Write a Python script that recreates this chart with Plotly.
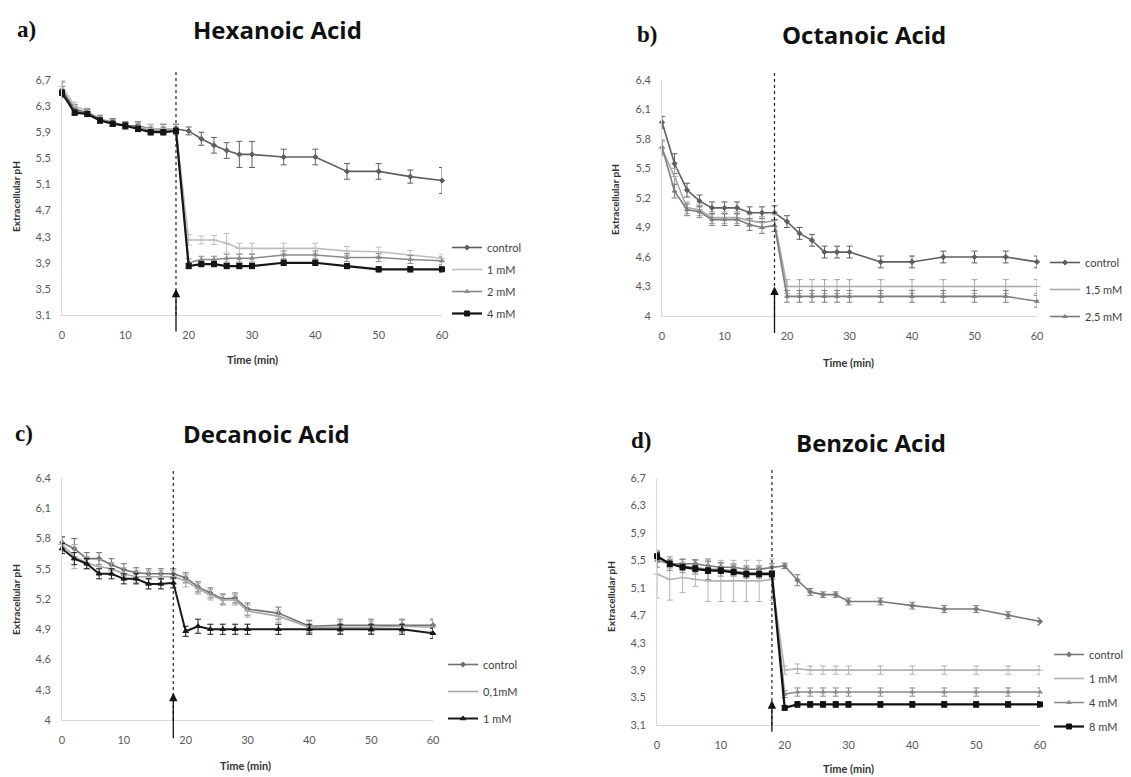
import plotly.graph_objects as go

# ---------------- DATA ----------------
time_min = [0, 2, 4, 6, 8, 10, 12, 14, 16, 18, 20, 22, 24, 26, 28, 30, 35, 40, 45, 50, 55, 60]
addition_time = 18

# a) Hexanoic acid
hex_labels = ["control", "1 mM", "2 mM", "4 mM"]
hex_control = [6.55, 6.25, 6.2, 6.1, 6.05, 6.0, 6.0, 5.95, 5.95, 5.95, 5.92, 5.8, 5.7, 5.62, 5.56, 5.56, 5.52, 5.52, 5.3, 5.3, 5.22, 5.16]
hex_1mM = [6.6, 6.3, 6.22, 6.1, 6.05, 6.0, 5.98, 5.95, 5.95, 5.95, 4.25, 4.25, 4.25, 4.2, 4.12, 4.12, 4.12, 4.12, 4.08, 4.07, 4.02, 3.97]
hex_2mM = [6.52, 6.22, 6.2, 6.1, 6.05, 6.0, 5.97, 5.92, 5.92, 5.92, 3.9, 3.95, 3.95, 3.97, 3.97, 3.97, 4.02, 4.02, 3.98, 3.98, 3.95, 3.93]
hex_4mM = [6.5, 6.2, 6.18, 6.08, 6.03, 6.0, 5.95, 5.9, 5.9, 5.92, 3.85, 3.88, 3.88, 3.85, 3.85, 3.85, 3.9, 3.9, 3.85, 3.8, 3.8, 3.8]
hex_control_err = [0.12, 0.07, 0.06, 0.06, 0.06, 0.06, 0.06, 0.07, 0.07, 0.07, 0.06, 0.1, 0.12, 0.12, 0.2, 0.2, 0.12, 0.12, 0.12, 0.12, 0.1, 0.2]
hex_1mM_err = [0.1, 0.06, 0.05, 0.05, 0.05, 0.05, 0.06, 0.07, 0.08, 0.08, 0.08, 0.06, 0.07, 0.15, 0.08, 0.08, 0.08, 0.08, 0.07, 0.07, 0.07, 0.06]
hex_2mM_err = [0.08, 0.05, 0.05, 0.05, 0.05, 0.05, 0.06, 0.06, 0.06, 0.06, 0.06, 0.05, 0.05, 0.06, 0.06, 0.06, 0.06, 0.06, 0.06, 0.06, 0.06, 0.06]
hex_4mM_err = [0.05, 0.04, 0.04, 0.04, 0.04, 0.04, 0.04, 0.04, 0.04, 0.04, 0.04, 0.04, 0.04, 0.04, 0.04, 0.04, 0.04, 0.04, 0.04, 0.04, 0.04, 0.04]

# b) Octanoic acid
oct_labels = ["control", "1,5 mM", "2,5 mM"]
oct_control = [5.97, 5.55, 5.28, 5.17, 5.1, 5.1, 5.1, 5.05, 5.05, 5.05, 4.96, 4.84, 4.77, 4.65, 4.65, 4.65, 4.55, 4.55, 4.6, 4.6, 4.6, 4.55]
oct_15mM = [5.7, 5.42, 5.1, 5.08, 5.0, 5.0, 5.0, 4.97, 4.95, 4.97, 4.3, 4.3, 4.3, 4.3, 4.3, 4.3, 4.3, 4.3, 4.3, 4.3, 4.3, 4.3]
oct_25mM = [5.72, 5.27, 5.08, 5.06, 4.98, 4.98, 4.98, 4.93, 4.9, 4.92, 4.2, 4.2, 4.2, 4.2, 4.2, 4.2, 4.2, 4.2, 4.2, 4.2, 4.2, 4.15]
oct_control_err = [0.06, 0.1, 0.07, 0.06, 0.06, 0.06, 0.06, 0.06, 0.06, 0.07, 0.06, 0.06, 0.06, 0.06, 0.06, 0.06, 0.06, 0.06, 0.06, 0.06, 0.06, 0.06]
oct_15mM_err = [0.07, 0.08, 0.06, 0.06, 0.06, 0.06, 0.06, 0.06, 0.06, 0.06, 0.07, 0.07, 0.07, 0.07, 0.07, 0.07, 0.07, 0.07, 0.07, 0.07, 0.07, 0.07]
oct_25mM_err = [0.07, 0.07, 0.06, 0.06, 0.06, 0.06, 0.06, 0.06, 0.06, 0.06, 0.06, 0.06, 0.06, 0.06, 0.06, 0.06, 0.06, 0.06, 0.06, 0.06, 0.06, 0.06]

# c) Decanoic acid
dec_labels = ["control", "0,1mM", "1 mM"]
dec_control = [5.76, 5.7, 5.6, 5.6, 5.54, 5.49, 5.46, 5.45, 5.45, 5.45, 5.41, 5.32, 5.26, 5.2, 5.21, 5.1, 5.06, 4.93, 4.94, 4.94, 4.94, 4.94]
dec_01mM = [5.74, 5.62, 5.56, 5.52, 5.5, 5.45, 5.42, 5.42, 5.42, 5.42, 5.38, 5.3, 5.24, 5.19, 5.19, 5.08, 5.03, 4.92, 4.92, 4.92, 4.93, 4.92]
dec_1mM = [5.7, 5.6, 5.55, 5.45, 5.45, 5.4, 5.4, 5.35, 5.35, 5.36, 4.88, 4.93, 4.9, 4.9, 4.9, 4.9, 4.9, 4.9, 4.9, 4.9, 4.9, 4.86]
dec_control_err = [0.06, 0.1, 0.06, 0.06, 0.06, 0.06, 0.05, 0.05, 0.05, 0.05, 0.05, 0.05, 0.05, 0.05, 0.05, 0.06, 0.06, 0.06, 0.06, 0.06, 0.06, 0.06]
dec_01mM_err = [0.07, 0.12, 0.06, 0.07, 0.06, 0.06, 0.06, 0.06, 0.06, 0.06, 0.06, 0.05, 0.05, 0.05, 0.05, 0.06, 0.06, 0.06, 0.06, 0.06, 0.06, 0.07]
dec_1mM_err = [0.05, 0.06, 0.05, 0.05, 0.05, 0.05, 0.05, 0.05, 0.05, 0.05, 0.05, 0.07, 0.05, 0.05, 0.05, 0.05, 0.05, 0.05, 0.05, 0.05, 0.05, 0.05]

# d) Benzoic acid
ben_labels = ["control", "1 mM", "4 mM", "8 mM"]
ben_control = [5.55, 5.45, 5.45, 5.45, 5.42, 5.4, 5.4, 5.37, 5.37, 5.4, 5.42, 5.21, 5.04, 5.0, 5.0, 4.9, 4.9, 4.84, 4.79, 4.79, 4.7, 4.61]
ben_1mM = [5.3, 5.22, 5.25, 5.22, 5.2, 5.2, 5.2, 5.2, 5.2, 5.22, 3.9, 3.92, 3.9, 3.9, 3.9, 3.9, 3.9, 3.9, 3.9, 3.9, 3.9, 3.9]
ben_4mM = [5.5, 5.45, 5.42, 5.4, 5.37, 5.37, 5.35, 5.32, 5.32, 5.32, 3.55, 3.58, 3.58, 3.58, 3.58, 3.58, 3.58, 3.58, 3.58, 3.58, 3.58, 3.58]
ben_8mM = [5.56, 5.45, 5.4, 5.38, 5.35, 5.35, 5.33, 5.3, 5.3, 5.3, 3.35, 3.4, 3.4, 3.4, 3.4, 3.4, 3.4, 3.4, 3.4, 3.4, 3.4, 3.4]
ben_control_err = [0.08, 0.06, 0.06, 0.06, 0.06, 0.06, 0.05, 0.05, 0.05, 0.05, 0.04, 0.08, 0.05, 0.04, 0.04, 0.05, 0.05, 0.05, 0.05, 0.05, 0.05, 0.05]
ben_1mM_err = [0.35, 0.3, 0.22, 0.1, 0.3, 0.3, 0.3, 0.3, 0.3, 0.3, 0.06, 0.07, 0.06, 0.06, 0.06, 0.06, 0.06, 0.06, 0.06, 0.06, 0.06, 0.06]
ben_4mM_err = [0.1, 0.1, 0.1, 0.1, 0.15, 0.1, 0.08, 0.08, 0.08, 0.08, 0.05, 0.06, 0.06, 0.06, 0.06, 0.06, 0.06, 0.06, 0.06, 0.06, 0.06, 0.06]
ben_8mM_err = [0.05, 0.04, 0.04, 0.04, 0.04, 0.04, 0.04, 0.04, 0.04, 0.04, 0.03, 0.04, 0.04, 0.04, 0.04, 0.04, 0.04, 0.04, 0.04, 0.04, 0.04, 0.04]

# tick labels
x_ticks = [0, 10, 20, 30, 40, 50, 60]
y_ticks_hex = [3.1, 3.5, 3.9, 4.3, 4.7, 5.1, 5.5, 5.9, 6.3, 6.7]
y_ticklabels_hex = ["3,1", "3,5", "3,9", "4,3", "4,7", "5,1", "5,5", "5,9", "6,3", "6,7"]
y_ticks_oct = [4.0, 4.3, 4.6, 4.9, 5.2, 5.5, 5.8, 6.1, 6.4]
y_ticklabels_oct = ["4", "4,3", "4,6", "4,9", "5,2", "5,5", "5,8", "6,1", "6,4"]

panel_titles = ["Hexanoic Acid", "Octanoic Acid", "Decanoic Acid", "Benzoic Acid"]
panel_letters = ["a)", "b)", "c)", "d)"]
x_title = "Time (min)"
y_title = "Extracellular pH"

# ---------------- LAYOUT HELPERS ----------------
W, H = 1131, 777
def fx(p):
    return p / W
def fy(p):
    return 1 - p / H

FONT = "Lato, 'Open Sans', sans-serif"
TITLE_FONT = "'Open Sans', Lato, sans-serif"
fig = go.Figure()

panels = [
    dict(ax="", xpx=(62, 442), ypx=(315, 80), yr=(3.1, 6.7), yt=y_ticks_hex, ytl=y_ticklabels_hex,
         legend="legend",
         series=[(hex_labels[0], hex_control, hex_control_err, "#5f5f5f", "diamond", 4, 1.6),
                 (hex_labels[1], hex_1mM, hex_1mM_err, "#bdbdbd", "line-ew", 5, 1.6),
                 (hex_labels[2], hex_2mM, hex_2mM_err, "#8a8a8a", "triangle-up", 4, 1.6),
                 (hex_labels[3], hex_4mM, hex_4mM_err, "#151515", "square", 5, 2.2)]),
    dict(ax="2", xpx=(662, 1037), ypx=(316, 80), yr=(4.0, 6.4), yt=y_ticks_oct, ytl=y_ticklabels_oct,
         legend="legend2",
         series=[(oct_labels[0], oct_control, oct_control_err, "#5f5f5f", "diamond", 4, 1.6),
                 (oct_labels[1], oct_15mM, oct_15mM_err, "#a8a8a8", "line-ew", 5, 1.6),
                 (oct_labels[2], oct_25mM, oct_25mM_err, "#7d7d7d", "triangle-up", 4, 1.6)]),
    dict(ax="3", xpx=(62, 433), ypx=(720, 478), yr=(4.0, 6.4), yt=y_ticks_oct, ytl=y_ticklabels_oct,
         legend="legend3",
         series=[(dec_labels[0], dec_control, dec_control_err, "#707070", "diamond", 4, 1.6),
                 (dec_labels[1], dec_01mM, dec_01mM_err, "#a8a8a8", "line-ew", 5, 1.6),
                 (dec_labels[2], dec_1mM, dec_1mM_err, "#1a1a1a", "triangle-up", 5, 2.0)]),
    dict(ax="4", xpx=(657, 1040), ypx=(725, 478), yr=(3.1, 6.7), yt=y_ticks_hex, ytl=y_ticklabels_hex,
         legend="legend4",
         series=[(ben_labels[0], ben_control, ben_control_err, "#7a7a7a", "diamond", 4, 1.6),
                 (ben_labels[1], ben_1mM, ben_1mM_err, "#b3b3b3", "line-ew", 5, 1.6),
                 (ben_labels[2], ben_4mM, ben_4mM_err, "#8c8c8c", "triangle-up", 4, 1.6),
                 (ben_labels[3], ben_8mM, ben_8mM_err, "#111111", "square", 5, 2.2)]),
]

# legend top-left corner (px), gap between items
legend_pos = {
    "legend": (447, 233, 3),
    "legend2": (1045, 248, 8),
    "legend3": (443, 650, 8),
    "legend4": (1049, 640, 5),
}

arrow_heads = [(3.5, 44), (4.3, 48), (4.27, 47), (3.46, 33)]
letter_pos = [(26, 29), (647, 35), (24, 434), (641, 440)]
title_pos = [(277, 29), (864, 35), (266, 433), (871, 442)]
ytitle_pos = [(16, 197), (615, 200), (16, 600), (611, 597)]
xtitle_pos = [(252, 360), (848, 362), (245, 765), (848, 768)]

layout_axes = {}
for i, p in enumerate(panels):
    xa = "x" + p["ax"]
    ya = "y" + p["ax"]
    for k, (name, vals, err, col, sym, msize, lw) in enumerate(p["series"]):
        fig.add_trace(go.Scatter(
            x=time_min, y=vals, name=name, mode="lines+markers",
            xaxis=xa, yaxis=ya, legend=p["legend"], legendgroup=p["legend"] + name,
            line=dict(color=col, width=lw),
            marker=dict(color=col, symbol=sym, size=msize, line=dict(color=col, width=1)),
            error_y=dict(type="data", array=err, visible=True, color=col, thickness=1, width=3),
            cliponaxis=False,
        ))
    axis_common = dict(showgrid=False, zeroline=False, showline=True, linecolor="#d9d9d9",
                       linewidth=1, ticks="", automargin=False,
                       tickfont=dict(family=FONT, size=11, color="#595959"))
    layout_axes["xaxis" + p["ax"]] = dict(
        domain=[fx(p["xpx"][0]), fx(p["xpx"][1])], range=[0, 60], anchor=ya,
        tickvals=x_ticks, ticktext=[str(v) for v in x_ticks], ticklabelstandoff=10, **axis_common)
    layout_axes["yaxis" + p["ax"]] = dict(
        domain=[fy(p["ypx"][0]), fy(p["ypx"][1])], range=list(p["yr"]), anchor=xa,
        tickvals=p["yt"], ticktext=p["ytl"], ticklabelstandoff=8, **axis_common)

    fig.add_shape(type="line", xref=xa, yref=ya + " domain", x0=addition_time, x1=addition_time,
                  y0=0, y1=1.04, line=dict(color="#222222", width=1.2, dash="dot"))
    hy, ay = arrow_heads[i]
    fig.add_annotation(x=addition_time, y=hy, xref=xa, yref=ya, text="", showarrow=True,
                       ax=0, ay=ay, arrowhead=2, arrowsize=1.3, arrowwidth=1.3, arrowcolor="#111111")

    lx, ly = letter_pos[i]
    fig.add_annotation(x=fx(lx), y=fy(ly), xref="paper", yref="paper", text="<b>%s</b>" % panel_letters[i],
                       xanchor="center", yanchor="middle", showarrow=False,
                       font=dict(family="Liberation Serif, serif", size=23, color="#111111"))
    tx, ty = title_pos[i]
    fig.add_annotation(x=fx(tx), y=fy(ty), xref="paper", yref="paper", text="<b>%s</b>" % panel_titles[i],
                       xanchor="center", yanchor="middle", showarrow=False,
                       font=dict(family=TITLE_FONT, size=24, color="#111111"))
    yx, yy = ytitle_pos[i]
    fig.add_annotation(x=fx(yx), y=fy(yy), xref="paper", yref="paper", text="<b>%s</b>" % y_title,
                       xanchor="center", yanchor="middle", showarrow=False, textangle=-90,
                       font=dict(family=FONT, size=10, color="#333333"))
    xx, xy = xtitle_pos[i]
    fig.add_annotation(x=fx(xx), y=fy(xy), xref="paper", yref="paper", text="<b>%s</b>" % x_title,
                       xanchor="center", yanchor="middle", showarrow=False,
                       font=dict(family=FONT, size=11, color="#333333"))

legends = {}
for key, (lx, ly, gap) in legend_pos.items():
    legends[key] = dict(x=fx(lx), y=fy(ly), xref="container", yref="container",
                        xanchor="left", yanchor="top", bgcolor="rgba(0,0,0,0)",
                        font=dict(family=FONT, size=11, color="#404040"), tracegroupgap=gap,
                        itemwidth=30, traceorder="grouped")

fig.update_layout(
    width=W, height=H, margin=dict(l=0, r=0, t=0, b=0, autoexpand=False),
    paper_bgcolor="white", plot_bgcolor="white", showlegend=True,
    **layout_axes, **legends,
)

# remove the default page margin so the figure fills the window exactly
fig.write_html("out.html", config={"displayModeBar": False},
               post_script="document.body.style.margin='0px';document.body.style.overflow='hidden';")
